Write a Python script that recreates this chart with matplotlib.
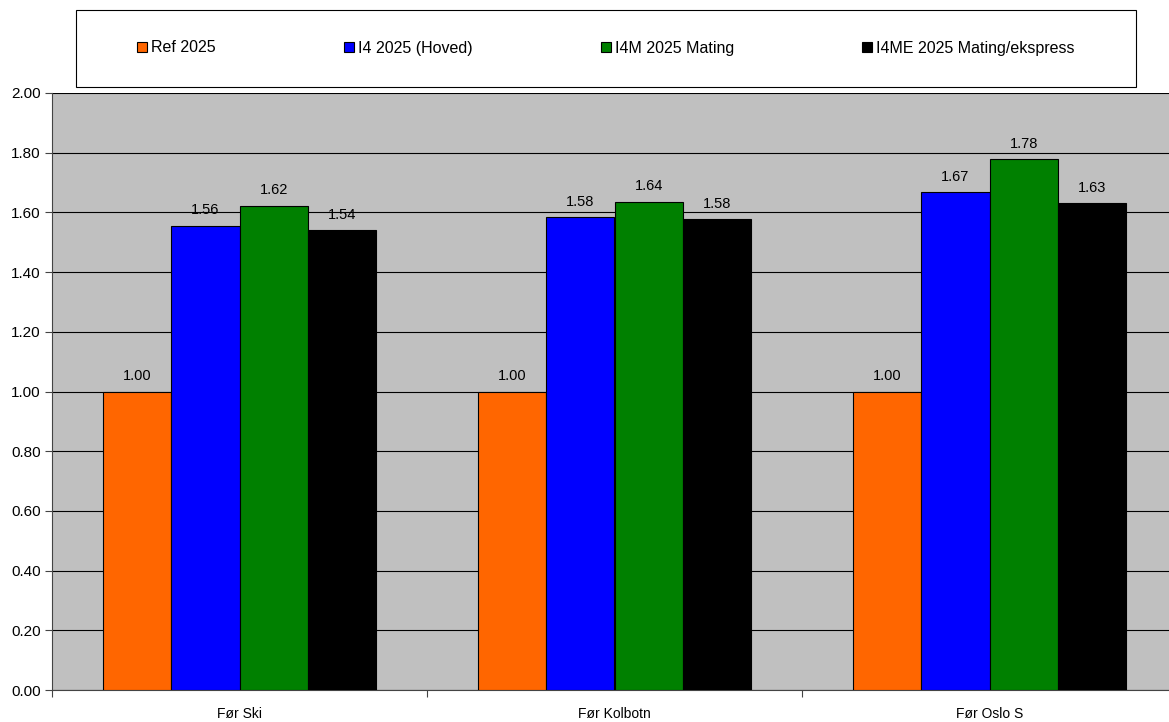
import matplotlib
matplotlib.use("Agg")
import matplotlib.pyplot as plt
import numpy as np
from matplotlib.patches import Rectangle

plt.rcParams['font.family'] = ['Liberation Sans', 'DejaVu Sans']

categories = ["Før Ski", "Før Kolbotn", "Før Oslo S"]
series_names = ["Ref 2025", "I4 2025 (Hoved)", "I4M 2025 Mating", "I4ME 2025 Mating/ekspress"]
ref_2025 = [1.00, 1.00, 1.00]
i4_2025 = [1.556, 1.583, 1.668]
i4m_2025 = [1.622, 1.636, 1.778]
i4me_2025 = [1.540, 1.578, 1.632]
colors = ["#FF6600", "#0000FF", "#008000", "#000000"]
y_ticks = [0.0, 0.2, 0.4, 0.6, 0.8, 1.0, 1.2, 1.4, 1.6, 1.8, 2.0]

W, H = 1169, 722
fig = plt.figure(figsize=(W / 100, H / 100), dpi=100)
left, right, top, bottom = 52, 1177, 93, 690
ax = fig.add_axes([left / W, 1 - bottom / H, (right - left) / W, (bottom - top) / H])
ax.set_facecolor("#C0C0C0")

x = np.arange(len(categories))
bw = 1 / 5.5
all_series = [ref_2025, i4_2025, i4m_2025, i4me_2025]
handles = []
for i, (vals, c, name) in enumerate(zip(all_series, colors, series_names)):
    pos = x - 2 * bw + bw / 2 + i * bw
    b = ax.bar(pos, vals, width=bw, color=c, edgecolor="black", linewidth=0.8, label=name, zorder=3)
    handles.append(b)
    for p, v in zip(pos, vals):
        ax.annotate(f"{v:.2f}", (p, v), xytext=(0, 6), textcoords="offset points",
                    ha="center", va="bottom", fontsize=10.5, color="black", zorder=4)

ax.set_xlim(-0.5, 2.5)
ax.set_ylim(0, 2.0)
ax.set_yticks(y_ticks)
ax.set_yticklabels([f"{t:.2f}" for t in y_ticks], fontsize=11)
ax.yaxis.grid(True, color="black", linewidth=0.8, zorder=1)
ax.set_axisbelow(True)

ax.set_xticks(x)
ax.set_xticklabels(categories, fontsize=10)
ax.tick_params(axis="x", which="major", length=0, pad=12)
ax.set_xticks([-0.5, 0.5, 1.5, 2.5], minor=True)
ax.tick_params(axis="x", which="minor", length=5, width=0.8, color="#444444")
ax.tick_params(axis="y", length=5, width=0.8, color="#444444", pad=3)

for s in ["top", "right"]:
    ax.spines[s].set_visible(False)
ax.spines["left"].set_color("#444444")
ax.spines["bottom"].set_color("#444444")
ax.spines["left"].set_linewidth(0.8)
ax.spines["bottom"].set_linewidth(0.8)

# legend box
fig.patches.append(Rectangle((76 / W, 1 - 87 / H), (1136 - 76) / W, (87 - 10) / H,
                             transform=fig.transFigure, facecolor="white",
                             edgecolor="black", linewidth=0.8, zorder=0))
fig.legend(handles=handles, labels=series_names, loc="center",
           bbox_to_anchor=(606 / W, 1 - 48 / H), ncol=4, frameon=False,
           fontsize=11.5, handlelength=0.65, handleheight=0.65, handletextpad=0.25,
           columnspacing=8.0)

fig.savefig("out.png", dpi=100)
